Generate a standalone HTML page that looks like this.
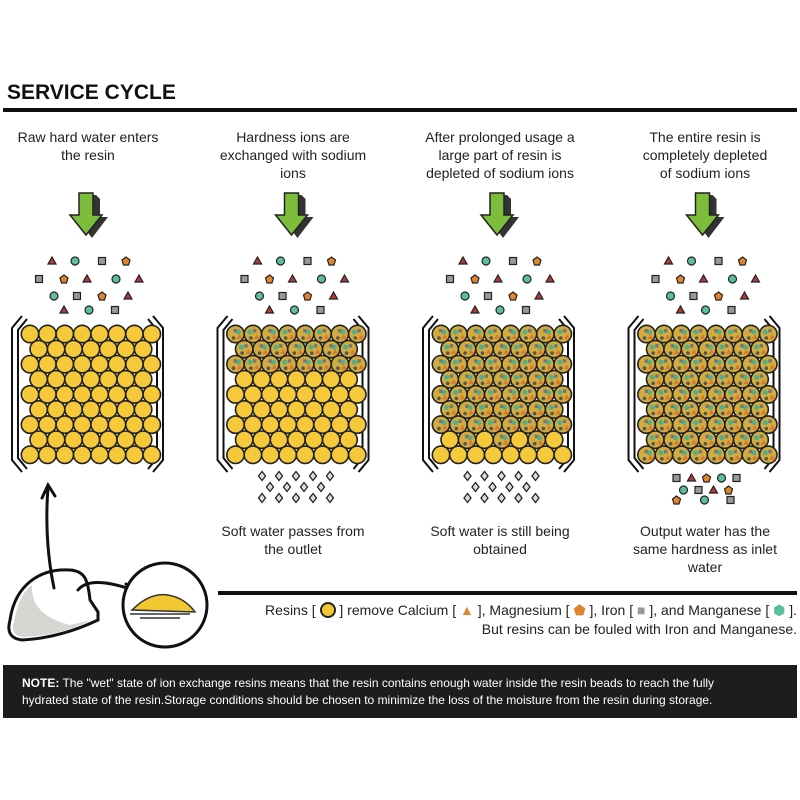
<!DOCTYPE html>
<html><head><meta charset="utf-8"><style>
body{margin:0;background:#fff;width:800px;height:800px;overflow:hidden;font-family:"Liberation Sans",sans-serif;}
svg{position:absolute;left:0;top:0}
.t{position:absolute;text-align:center;width:200px;font-size:14px;line-height:18px;color:#222}
</style></head><body>
<svg id="s" width="800" height="800" xmlns="http://www.w3.org/2000/svg">
<text x="7" y="99" font-family="Liberation Sans" font-weight="bold" font-size="21" fill="#111">SERVICE CYCLE</text>
<rect x="3" y="108" width="794" height="4" fill="#111"/>
<rect x="218" y="591" width="579" height="4" fill="#111"/>
<rect x="3" y="665" width="794" height="53" fill="#1d1d1d"/>
<text font-family="Liberation Sans" font-size="12" fill="#fff"><tspan x="22" y="687"><tspan font-weight="bold">NOTE:</tspan> The "wet" state of ion exchange resins means that the resin contains enough water inside the resin beads to reach the fully</tspan><tspan x="22" y="704">hydrated state of the resin.Storage conditions should be chosen to minimize the loss of the moisture from the resin during storage.</tspan></text>
<path d="M10 620 C15 585 40 568 70 570 C85 571 88 580 90 600 L98 612 L98 620 Q60 638 22 640 Q5 638 10 620Z" fill="#fff" stroke="#111" stroke-width="3"/>
<path d="M14 622 C18 600 25 590 32 585 Q30 615 70 625 L92 620 Q60 636 22 637 Q10 635 14 622Z" fill="#d8d6d2"/>
<g fill="none" stroke="#111" stroke-width="3" stroke-linecap="round">
<path d="M54 588 Q44 540 48 487"/><path d="M42 498 L48 485 L55 496"/>
<path d="M78 590 Q90 575 133 590"/><path d="M126 584 L135 590 L126 596"/>
<circle cx="165" cy="605" r="42" fill="#fff"/>
</g>
<path d="M132 610 Q150 592 168 595 Q185 598 195 612Z" fill="#f2c832" stroke="#333" stroke-width="1.5"/>
<path d="M130 614 L190 614 M140 618 L180 618" stroke="#333" stroke-width="1.5"/>
</svg>
<div class="t" style="left:-12px;top:128px">Raw hard water enters<br>the resin</div>
<div class="t" style="left:193px;top:128px">Hardness ions are<br>exchanged with sodium<br>ions</div>
<div class="t" style="left:400px;top:128px">After prolonged usage a<br>large part of resin is<br>depleted of sodium ions</div>
<div class="t" style="left:605px;top:128px">The entire resin is<br>completely depleted<br>of sodium ions</div>
<div class="t" style="left:193px;top:522px">Soft water passes from<br>the outlet</div>
<div class="t" style="left:400px;top:522px">Soft water is still being<br>obtained</div>
<div class="t" style="left:605px;top:522px">Output water has the<br>same hardness as inlet<br>water</div>
<div class="t" style="left:200px;width:597px;top:601px;text-align:right;font-size:14px;line-height:19px">Resins [ <span style="display:inline-block;width:12px;height:12px;border-radius:50%;background:#f2c832;border:2px solid #222;vertical-align:-3px"></span> ] remove Calcium [ <span style="color:#e0852b">▲</span> ], Magnesium [ <span style="color:#e0852b">⬟</span> ], Iron [ <span style="color:#999">■</span> ], and Manganese [ <span style="color:#5cbf9c">⬢</span> ].<br>But resins can be fouled with Iron and Manganese.</div>
<script>
var s=document.getElementById('s'),h='';
function tri(x,y,c){return '<path d="M'+(x-4)+' '+(y+3)+'L'+x+' '+(y-4)+'L'+(x+4)+' '+(y+3)+'Z" fill="'+c+'" stroke="#222" stroke-width="1.2"/>';}
function ion(t,x,y){
 if(t=='t')return tri(x,y,'#b2393a');
 if(t=='c')return '<circle cx="'+x+'" cy="'+y+'" r="4" fill="#5cbf9c" stroke="#222" stroke-width="1.2"/>';
 if(t=='s')return '<rect x="'+(x-3.5)+'" y="'+(y-3.5)+'" width="7" height="7" fill="#999" stroke="#222" stroke-width="1.2"/>';
 return '<path d="M'+x+' '+(y-4)+'L'+(x+4)+' '+(y-1)+'L'+(x+2.5)+' '+(y+4)+'L'+(x-2.5)+' '+(y+4)+'L'+(x-4)+' '+(y-1)+'Z" fill="#e0852b" stroke="#222" stroke-width="1.2"/>';}
var ions=[[261,[[52,'t'],[75,'c'],[102,'s'],[126,'p']]],[279,[[39,'s'],[64,'p'],[87,'t'],[116,'c'],[139,'t']]],[296,[[54,'c'],[77,'s'],[102,'p'],[128,'t']]],[310,[[64,'t'],[89,'c'],[115,'s']]]];
var fouled=[0,3,7,9];
for(var k=0;k<4;k++){
 var o=k*205.5;
 h+='<g transform="translate('+(o+88)+',0)"><path d="M-6 195L8 195 L12 199 L12 217 L20 217 L4 238 L-12 217 L-6 217Z" fill="#333"/><path d="M-9 193L5 193L5 215L14 215L-2 235L-18 215L-9 215Z" fill="#7dbd3c" stroke="#222" stroke-width="1.5"/></g>';
 ions.forEach(function(r){r[1].forEach(function(p){h+=ion(p[1],p[0]+o,r[0]);});});
 h+='<g fill="none" stroke="#111" stroke-width="2"><path d="M'+(o+22)+' 316L'+(o+12)+' 328L'+(o+12)+' 460L'+(o+22)+' 472"/><path d="M'+(o+27)+' 319L'+(o+18)+' 330L'+(o+18)+' 458L'+(o+27)+' 469"/><path d="M'+(o+153)+' 316L'+(o+163)+' 328L'+(o+163)+' 460L'+(o+153)+' 472"/><path d="M'+(o+148)+' 319L'+(o+157)+' 330L'+(o+157)+' 458L'+(o+148)+' 469"/></g>';
 for(var r=0;r<9;r++){
  var n=r%2?7:8,y=334+r*15.1,x0=r%2?38.7:30;
  for(var i=0;i<n;i++){
   var x=o+x0+i*17.4,f=r<fouled[k]||(k==2&&r==7&&i%2==1);
   h+='<circle cx="'+x+'" cy="'+y+'" r="8.7" fill="'+(f?'#d2ad3e':'#f5c93a')+'" stroke="#222" stroke-width="1.6"/>';
   if(f){var q=(i+r)%2?1:-1;h+='<circle cx="'+(x-3*q)+'" cy="'+(y-2)+'" r="2.5" fill="#4fb08e"/><rect x="'+(x+1*q-1)+'" y="'+(y-5)+'" width="3.5" height="3.5" fill="#777"/><path d="M'+(x+1)+' '+(y+5)+'l3 -5l3 5z" fill="#e07a2b"/><circle cx="'+(x-2)+'" cy="'+(y+4)+'" r="1.8" fill="#555"/>';}
  }
 }
 if(k>0){
  var dr=[[262,279,296,313,330],[270,287,304,321],[262,279,296,313,330]];
  if(k==3){h+=ion('s',o+60,478)+ion('t',o+75,478)+ion('p',o+90,478)+ion('c',o+105,478)+ion('s',o+120,478)+ion('c',o+67,490)+ion('s',o+82,490)+ion('t',o+97,490)+ion('p',o+112,490)+ion('p',o+60,500)+ion('c',o+88,500)+ion('s',o+114,500);}
  else for(var a=0;a<3;a++)dr[a].forEach(function(x){x=x-205.5+o;var yy=476+a*11;h+='<path d="M'+x+' '+(yy-4.5)+'L'+(x+3.5)+' '+yy+'L'+x+' '+(yy+4.5)+'L'+(x-3.5)+' '+yy+'Z" fill="#ddd" stroke="#222" stroke-width="1.3"/>';});
 }
}
s.insertAdjacentHTML('beforeend',h);
</script>
</body></html>
